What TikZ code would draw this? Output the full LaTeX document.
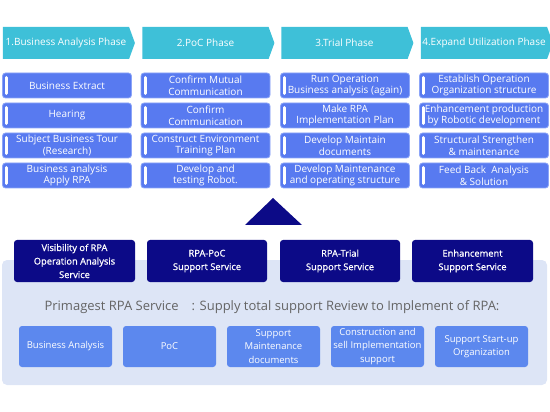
\documentclass[tikz,border=0pt]{standalone}
\usepackage{fontspec}
\setmainfont{Open Sans}
\newfontfamily\servicefont[FakeBold=0.9]{Open Sans}
\usetikzlibrary{shapes.symbols, positioning}

\definecolor{phasecyan}{RGB}{62,192,216}
\definecolor{stepblue}{RGB}{88,122,240}
\definecolor{stepedge}{RGB}{140,165,248}
\definecolor{navyblue}{RGB}{12,10,135}
\definecolor{panelblue}{RGB}{221,229,246}
\definecolor{itemblue}{RGB}{92,136,238}
\definecolor{titlegray}{RGB}{100,100,100}

\tikzset{
  phase/.style={signal, signal to=east, signal pointer angle=140, fill=phasecyan, text=white,
    minimum width=132pt, minimum height=32pt, inner sep=0pt, font=\fontsize{10}{12}\selectfont},
  stepbox/.style={rectangle, rounded corners=3pt, fill=stepblue, draw=stepedge, line width=0.8pt,
    text=white, minimum width=129pt, minimum height=25pt, inner sep=0pt, align=center,
    font=\fontsize{10}{11.8}\selectfont},
  stepbar/.style={white, line width=3pt, line cap=round},
  servicebox/.style={rectangle, rounded corners=3pt, fill=navyblue, text=white, minimum width=120pt,
    minimum height=42pt, inner sep=0pt, align=center, font=\servicefont\fontsize{9.3}{13.5}\selectfont},
  itembox/.style={rectangle, rounded corners=3pt, fill=itemblue, text=white, minimum width=93pt,
    minimum height=41pt, inner sep=0pt, align=center, font=\fontsize{9.5}{13.5}\selectfont},
}

\begin{document}
\begin{tikzpicture}[x=1pt, y=-1pt]
				\useasboundingbox (0,0) rectangle (550,412);
				% Phase arrows
				\node[phase] (ph1) at (66,43) {1.Business Analysis Phase};
				\node[phase] (ph2) at (205.5,43) {2.PoC Phase};
				\node[phase] (ph3) at (344.5,43) {3.Trial Phase};
				\node[phase] (ph4) at (484,43) {4.Expand Utilization Phase};
				% Steps of each phase
				\node[stepbox] (s11) at (67,85.5) {Business Extract};
				\node[stepbox] (s12) at (67,115.5) {Hearing};
				\node[stepbox] (s13) at (67,145.5) {Subject Business Tour\\(Research)};
				\node[stepbox] (s14) at (67,175.5) {Business analysis\\Apply RPA};
				\node[stepbox] (s21) at (205.5,85.5) {Confirm Mutual\\Communication};
				\node[stepbox] (s22) at (205.5,115.5) {Confirm\\Communication};
				\node[stepbox] (s23) at (205.5,145.5) {Construct Environment\\Training Plan};
				\node[stepbox] (s24) at (205.5,175.5) {Develop and\\testing Robot.};
				\node[stepbox] (s31) at (345,85.5) {Run Operation\\Business analysis (again)};
				\node[stepbox] (s32) at (345,115.5) {Make RPA\\Implementation Plan};
				\node[stepbox] (s33) at (345,145.5) {Develop Maintain\\documents};
				\node[stepbox] (s34) at (345,175.5) {Develop Maintenance\\and operating structure};
				\node[stepbox] (s41) at (484,85.5) {Establish Operation\\Organization structure};
				\node[stepbox] (s42) at (484,115.5) {Enhancement production\\by Robotic development};
				\node[stepbox] (s43) at (484,145.5) {Structural Strengthen\\\& maintenance};
				\node[stepbox] (s44) at (484,175.5) {Feed Back\ \ Analysis\\\& Solution};
				\foreach \b in {s11,s12,s13,s14,s21,s22,s23,s24,s31,s32,s33,s34,s41,s42,s43,s44}
					\draw[stepbar] ([xshift=4.5pt,yshift=-8pt]\b.west) -- ([xshift=4.5pt,yshift=8pt]\b.west);
				% Upward triangle
				\fill[navyblue] (273,198) -- (302,225) -- (245,225) -- cycle;
				% Service panel
				\fill[panelblue, rounded corners=5pt] (2,260) rectangle (547,385);
				\node[servicebox, minimum width=121pt] (v1) at (74.5,261) {Visibility of RPA\\Operation Analysis\\Service};
				\node[servicebox] (v2) at (207,261) {RPA-PoC\\Support Service};
				\node[servicebox] (v3) at (340,261) {RPA-Trial\\Support Service};
				\node[servicebox, minimum width=121pt] (v4) at (472.5,261) {Enhancement\\Support Service};
				\node[text=titlegray, font=\fontsize{13}{15}\selectfont] (title) at (272,307)
					{Primagest RPA Service\quad: Supply total support Review to Implement of RPA:};
				\node[itembox] (i1) at (65.5,346.5) {Business Analysis};
				\node[itembox] (i2) at (169.5,346.5) {PoC};
				\node[itembox] (i3) at (273.5,346.5) {Support\\Maintenance\\documents};
				\node[itembox] (i4) at (377.5,346.5) {Construction and\\sell Implementation\\support};
				\node[itembox] (i5) at (481.5,346.5) {Support Start-up\\Organization};
\end{tikzpicture}
\end{document}
